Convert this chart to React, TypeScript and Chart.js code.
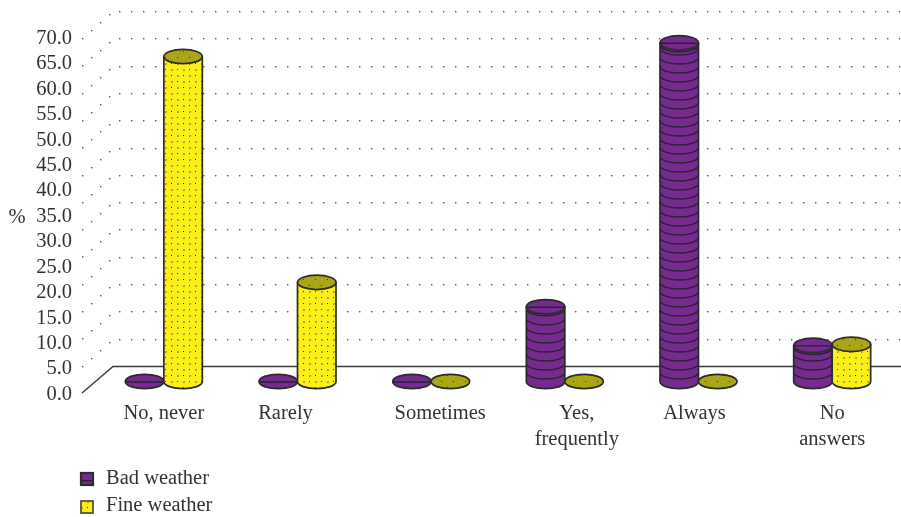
import React, { useEffect, useRef } from "react";
import { Chart, registerables } from "chart.js";

Chart.register(...registerables);

const categories: (string | string[])[] = ["No, never", "Rarely", "Sometimes", ["Yes,", "frequently"], "Always", ["No", "answers"]];
const badWeather = [0, 0, 0, 14.7, 66.6, 7.1];
const fineWeather = [63.9, 19.5, 0, 0, 0, 7.3];
const seriesNames = ["Bad weather", "Fine weather"];
const axisMin = 0;
const axisMax = 70;
const axisStep = 5;
const axisUnit = "%";

const FONT = '20.5px "Liberation Serif", serif';
const TEXT = "#333333";
const PURPLE = "#752a8d";
const PURPLE_DARK = "#2a2233";
const YELLOW = "#fdee15";
const OLIVE = "#a9a614";
const EDGE = "#2c2c2c";
const DEPTH_X = 31;
const DEPTH_Y = 26.5;
const TEXT_DROP = 1.5;
const BAR_LIFT = 11.5 + TEXT_DROP;
const RY = 7.2;
const STRIPE = 9;
const LABEL_SHIFT = [0, -12, 9, 12, -4, 0];

function dots(top: string) {
  const c = document.createElement("canvas");
  c.width = 12;
  c.height = 12;
  const g = c.getContext("2d")!;
  g.fillStyle = top;
  g.fillRect(0, 0, 12, 12);
  g.fillStyle = "#3d3a20";
  g.fillRect(3, 3, 1, 1);
  g.fillRect(9, 9, 1, 1);
  g.fillStyle = "#b0a74a";
  g.fillRect(9, 3, 2, 2);
  g.fillRect(3, 9, 2, 2);
  return g.createPattern(c, "repeat")!;
}

function cylinder(g: CanvasRenderingContext2D, cx: number, rx: number, top: number, base: number, purple: boolean) {
  const sidePattern: string | CanvasPattern = purple ? PURPLE : dots(YELLOW);
  const topPattern: string | CanvasPattern = purple ? PURPLE : dots(OLIVE);
  const flat = base - top < 1;
  g.save();
  g.lineWidth = 1.7;
  g.lineJoin = "round";
  g.strokeStyle = EDGE;
  if (!flat) {
    const side = new Path2D();
    side.moveTo(cx - rx, top);
    side.lineTo(cx - rx, base);
    side.ellipse(cx, base, rx, RY, 0, Math.PI, 0, true);
    side.lineTo(cx + rx, top);
    side.closePath();
    g.fillStyle = sidePattern;
    g.fill(side);
    if (purple) {
      g.save();
      g.clip(side);
      g.strokeStyle = PURPLE_DARK;
      g.lineWidth = 1.5;
      for (let y = base - STRIPE; y > top + 4; y -= STRIPE) {
        g.beginPath();
        g.ellipse(cx, y, rx, RY - 0.7, 0, Math.PI, 0, true);
        g.stroke();
      }
      g.beginPath();
      g.ellipse(cx, top + 2.5, rx, RY - 0.7, 0, Math.PI, 0, true);
      g.stroke();
      g.restore();
    }
    g.stroke(side);
  }
  const cap = new Path2D();
  cap.ellipse(cx, top, rx, RY, 0, 0, Math.PI * 2);
  g.fillStyle = topPattern;
  g.fill(cap);
  if (purple) {
    g.save();
    g.clip(cap);
    g.strokeStyle = PURPLE_DARK;
    g.lineWidth = 1.4;
    g.beginPath();
    g.moveTo(cx - rx, top + 0.5);
    g.lineTo(cx + rx, top + 0.5);
    g.stroke();
    g.restore();
  }
  g.stroke(cap);
  g.restore();
}

const scenePlugin = {
  id: "scene",
  beforeDatasetsDraw(chart: any) {
    const g: CanvasRenderingContext2D = chart.ctx;
    const { y, x } = chart.scales;
    const front = y.getPixelForValue(axisMin) - TEXT_DROP;
    const high = y.getPixelForValue(axisMax) + 1 - TEXT_DROP;
    const left = x.left - 15;
    const rows = 13;
    const pitch = (front - high) / rows;
    g.save();
    g.fillStyle = "#555555";
    for (let k = 1; k <= rows; k++) {
      const fy = front - k * pitch;
      const by = fy - DEPTH_Y - 0.5;
      for (let s = 0; s < 4; s++) {
        g.fillRect(Math.round(left + s * 9), Math.round(fy - s * 7.9), 1.4, 1.4);
      }
      for (let px = left + DEPTH_X + 6; px < chart.width; px += 12) {
        g.fillRect(Math.round(px), Math.round(by), 1.4, 1.4);
      }
    }
    g.strokeStyle = "#3a3a3a";
    g.lineWidth = 1.4;
    g.beginPath();
    g.moveTo(left, front);
    g.lineTo(left + DEPTH_X, front - DEPTH_Y);
    g.lineTo(chart.width, front - DEPTH_Y);
    g.stroke();
    g.restore();
  },
  afterDatasetsDraw(chart: any) {
    const g: CanvasRenderingContext2D = chart.ctx;
    [0, 1].forEach((d) => {
      chart.getDatasetMeta(d).data.forEach((bar: any) => {
        cylinder(g, bar.x, bar.width / 2, bar.y - BAR_LIFT, bar.base - BAR_LIFT, d === 0);
      });
    });
    const { x, y } = chart.scales;
    g.save();
    g.font = FONT;
    g.fillStyle = TEXT;
    g.textBaseline = "alphabetic";
    g.textAlign = "center";
    categories.forEach((label, i) => {
      const lines = Array.isArray(label) ? label : [label];
      lines.forEach((line, n) => {
        g.fillText(line, x.getPixelForTick(i) + LABEL_SHIFT[i], y.bottom + 24.5 + n * 26);
      });
    });
    g.fillText(axisUnit, 17, (y.top + y.bottom) / 2 + 6.5);
    g.textAlign = "left";
    seriesNames.forEach((name, i) => {
      const top = 473 + i * 28;
      g.fillStyle = i === 0 ? PURPLE : dots(YELLOW);
      g.fillRect(81, top, 12, 12);
      if (i === 0) {
        g.fillStyle = PURPLE_DARK;
        g.fillRect(81, top + 7, 12, 1.5);
      }
      g.strokeStyle = i === 0 ? EDGE : "#555544";
      g.lineWidth = i === 0 ? 2.2 : 1.8;
      g.strokeRect(81, top, 12, 12);
      g.fillStyle = TEXT;
      g.fillText(name, 106, top + 11 - i * 1);
    });
    g.restore();
  },
};

export default function App() {
  const ref = useRef<HTMLCanvasElement>(null);
  useEffect(() => {
    const chart = new Chart(ref.current!, {
      type: "bar",
      data: {
        labels: categories as any,
        datasets: [
          { label: seriesNames[0], data: badWeather, backgroundColor: "transparent" },
          { label: seriesNames[1], data: fineWeather, backgroundColor: "transparent" },
        ],
      },
      options: {
        responsive: false,
        devicePixelRatio: 1,
        animation: false,
        layout: { padding: { left: 0, right: 2, top: 37 + TEXT_DROP, bottom: 124 - TEXT_DROP } },
        datasets: { bar: { categoryPercentage: 0.576, barPercentage: 1, minBarLength: 0 } },
        plugins: { legend: { display: false }, tooltip: { enabled: false }, title: { display: false } },
        scales: {
          x: {
            grid: { display: false, drawTicks: false, tickLength: 0 },
            border: { display: false },
            ticks: { display: false, padding: 0 },
            afterFit: (s: any) => {
              s.height = 0;
            },
          },
          y: {
            min: axisMin,
            max: axisMax,
            afterFit: (s: any) => {
              s.width = 97;
            },
            grid: { display: false, drawTicks: false, tickLength: 0 },
            border: { display: false },
            ticks: {
              stepSize: axisStep,
              padding: 25,
              autoSkip: false,
              color: TEXT,
              font: { family: '"Liberation Serif", serif', size: 20.5 },
              callback: (v: any) => Number(v).toFixed(1),
            },
          },
        },
      } as any,
      plugins: [scenePlugin],
    });
    return () => chart.destroy();
  }, []);
  return (
    <div style={{ position: "absolute", left: 0, top: 0, width: 901, height: 517 }}>
      <canvas ref={ref} width={901} height={517} style={{ display: "block" }} />
    </div>
  );
}
